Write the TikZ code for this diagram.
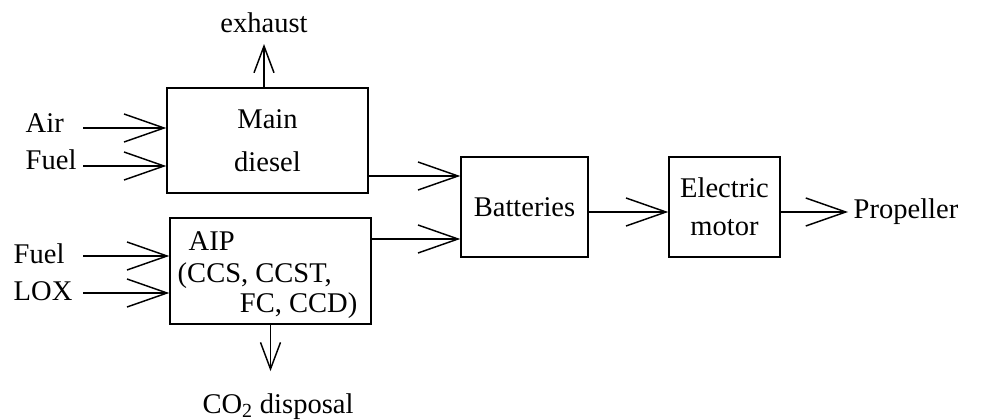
\documentclass[tikz,border=0pt]{standalone}
\usepackage{fontspec}
\setmainfont{Liberation Serif}
\usetikzlibrary{arrows.meta,positioning}

\begin{document}
\begin{tikzpicture}[x=0.75pt, y=-0.75pt, line width=1.1pt,
  font=\fontsize{21.4}{28.5}\selectfont,
  blk/.style={draw,inner sep=0pt,align=center,minimum height=75pt},
  lbl/.style={inner sep=0pt},
  >={Straight Barb[length=30pt,width=21pt]},
  sm/.style={-{Straight Barb[length=20pt,width=15pt]}}]
\useasboundingbox (0,0) rectangle (988,420);
% boxes
\node[blk,minimum width=150.75pt,minimum height=78.75pt] (main) at (267.5,140.5) {Main\\[3.75pt]diesel};
\node[blk,minimum width=150.75pt,minimum height=79.5pt] (aip) at (270.5,271) {};
\node[lbl,anchor=base west] (aip1) at (188,251) {AIP};
\node[lbl,anchor=base west] (aip2) at (177,282) {(CCS, CCST,};
\node[lbl,anchor=base east] (aip3) at (358,312) {FC, CCD)};
\node[blk,minimum width=95.25pt] (bat) at (524.5,207) {Batteries};
\node[blk,minimum width=83.25pt] (motor) at (724.5,207) {Electric\\motor};
% labels
\node[lbl,anchor=base west] (air) at (25,133) {Air};
\node[lbl,anchor=base west] (fuel) at (25,170) {Fuel};
\node[lbl,anchor=base west] (fuela) at (13,263) {Fuel};
\node[lbl,anchor=base west] (lox) at (13,300) {LOX};
\node[lbl,anchor=base] (exh) at (264,33) {exhaust};
\node[lbl,anchor=base] (co2) at (278,413) {CO\textsubscript{2} disposal};
\node[lbl,inner xsep=3.75pt,anchor=west] (prop) at (848,212) {Propeller};
\coordinate (airin) at (83,128);
\coordinate (fuelin) at (83,166);
\coordinate (fuelain) at (83,256);
\coordinate (loxin) at (83,293);
% flows
\draw[->] (airin) -- (airin -| main.west);
\draw[->] (fuelin) -- (fuelin -| main.west);
\draw[->] (fuelain) -- (fuelain -| aip.west);
\draw[->] (loxin) -- (loxin -| aip.west);
\draw[sm] (main.north -| exh) -- ([yshift=-7.5pt]exh.south);
\draw[sm] (aip.south) -- ([yshift=16pt]co2.north -| aip.south);
\draw[->] (main.east |- 0,176) -- (bat.west |- 0,176);
\draw[->] (aip.east |- 0,239) -- (bat.west |- 0,239);
\draw[->] (bat.east |- prop.west) -- (motor.west |- prop.west);
\draw[->] (motor.east |- prop.west) -- (prop.west);
\end{tikzpicture}
\end{document}
